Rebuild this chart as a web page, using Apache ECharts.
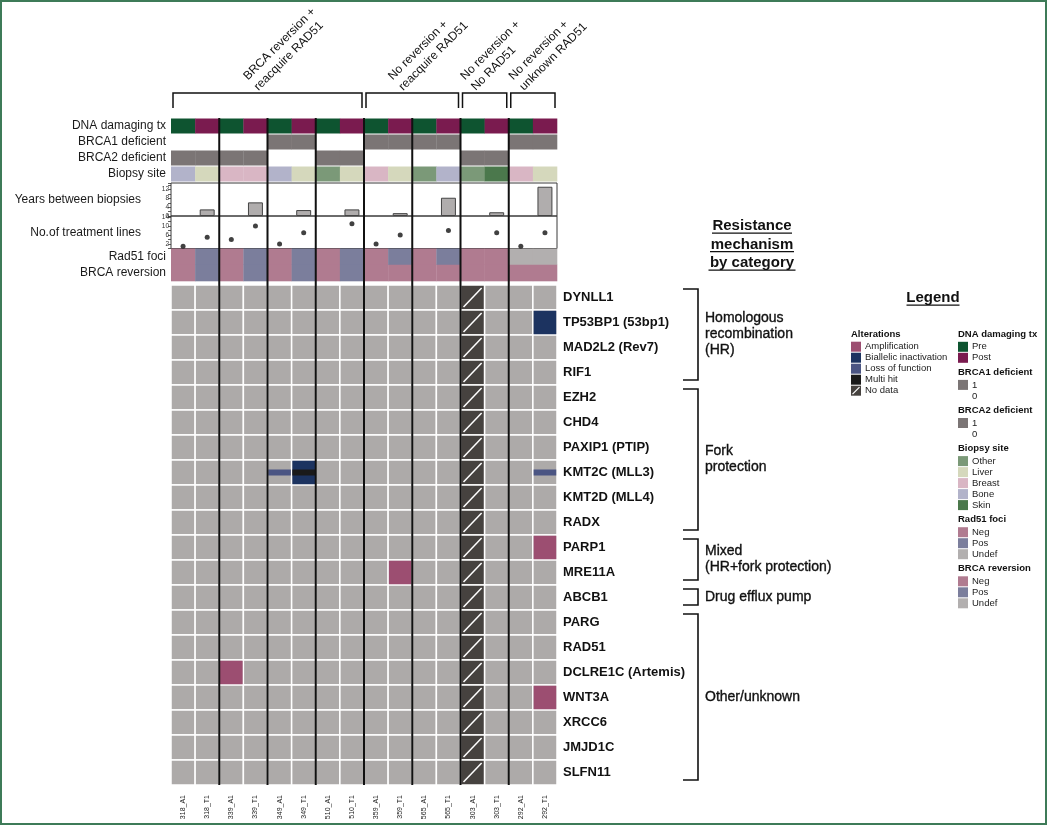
<!DOCTYPE html>
<html><head><meta charset="utf-8">
<script src="https://cdn.jsdelivr.net/npm/echarts@6/dist/echarts.min.js"></script>
<style>html,body{margin:0;padding:0;background:#fff}#chart{width:1050px;height:826px}</style>
</head><body><div id="chart"></div>
<script>
const FONT = '"Liberation Sans", Arial, Helvetica, sans-serif';

// ---------------- data ----------------
const samples = ['318_A1','318_T1','339_A1','339_T1','349_A1','349_T1','510_A1','510_T1','359_A1','359_T1','565_A1','565_T1','303_A1','303_T1','292_A1','292_T1'];
const dnaDamagingTx = ['Pre','Post','Pre','Post','Pre','Post','Pre','Post','Pre','Post','Pre','Post','Pre','Post','Pre','Post'];
const brca1Deficient = [0,0,0,0,1,1,0,0,1,1,1,1,0,0,1,1];
const brca2Deficient = [1,1,1,1,0,0,1,1,0,0,0,0,1,1,0,0];
const biopsySite = ['Bone','Liver','Breast','Breast','Bone','Liver','Other','Liver','Breast','Liver','Other','Bone','Other','Skin','Breast','Liver'];
const yearsBetweenBiopsies = [null,3,null,6.2,null,2.7,null,3,null,1.3,null,8.3,null,1.7,null,13.3];
const treatmentLines = [1,5,4,10,2,7,null,11,2,6,null,8,null,7,1,7];
const rad51Foci = ['Neg','Pos','Neg','Pos','Neg','Pos','Neg','Pos','Neg','Pos','Neg','Pos','Neg','Neg','Undef','Undef'];
const brcaReversion = ['Neg','Pos','Neg','Pos','Neg','Pos','Neg','Pos','Neg','Neg','Neg','Neg','Neg','Neg','Neg','Neg'];
const annoRows = ['DNA damaging tx','BRCA1 deficient','BRCA2 deficient','Biopsy site'];
const statusRows = ['Rad51 foci','BRCA reversion'];

const genes = ['DYNLL1','TP53BP1 (53bp1)','MAD2L2 (Rev7)','RIF1','EZH2','CHD4','PAXIP1 (PTIP)','KMT2C (MLL3)','KMT2D (MLL4)','RADX','PARP1','MRE11A','ABCB1','PARG','RAD51','DCLRE1C (Artemis)','WNT3A','XRCC6','JMJD1C','SLFN11'];
const altGene = ['TP53BP1 (53bp1)','KMT2C (MLL3)','KMT2C (MLL3)','KMT2C (MLL3)','KMT2C (MLL3)','PARP1','MRE11A','DCLRE1C (Artemis)','WNT3A'];
const altSample = ['292_T1','349_A1','349_T1','349_T1','292_T1','292_T1','359_T1','339_A1','292_T1'];
const altType = ['Biallelic inactivation','Loss of function','Biallelic inactivation','Multi hit','Loss of function','Amplification','Amplification','Amplification','Amplification'];
const noDataSamples = ['303_A1'];

const groupLabels = ['BRCA reversion +\nreacquire RAD51','No reversion +\nreacquire RAD51','No reversion +\nNo RAD51','No reversion +\nunknown RAD51'];
const groupFirst = ['318_A1','359_A1','303_A1','292_A1'];
const groupLast = ['510_T1','565_T1','303_T1','292_T1'];

const categoryLabels = ['Homologous\nrecombination\n(HR)','Fork\nprotection','Mixed\n(HR+fork protection)','Drug efflux pump','Other/unknown'];
const categoryFirst = ['DYNLL1','EZH2','PARP1','ABCB1','PARG'];
const categoryLast = ['RIF1','RADX','MRE11A','ABCB1','SLFN11'];

// ---------------- styles ----------------
const COL = {Pre:'#0e5430', Post:'#7a1b4f', def:'#7b7575', Other:'#7b9978', Liver:'#d5d8bc', Breast:'#d9b6c4', Bone:'#b2b3ca', Skin:'#4b784c', Neg:'#b07b90', Pos:'#7b7e9c', Undef:'#b2afaf'};
const ALT = {'Amplification':'#9c4e71','Biallelic inactivation':'#1c3360','Loss of function':'#4b5583','Multi hit':'#1a1a1a'};
const BASE = '#adaaa9', NODATA = '#46423f';
const TXT = '#1a1a1a';

const GL = 171, GW = 386;

// ---------------- derived series data ----------------
const annoData = [], annoColors = [];
samples.forEach((s, c) => {
  annoData.push([c, 0]); annoColors.push(COL[dnaDamagingTx[c]]);
  annoData.push([c, 1]); annoColors.push(brca1Deficient[c] ? COL.def : '#ffffff');
  annoData.push([c, 2]); annoColors.push(brca2Deficient[c] ? COL.def : '#ffffff');
  annoData.push([c, 3]); annoColors.push(COL[biopsySite[c]]);
});
const statusData = [], statusColors = [];
samples.forEach((s, c) => {
  statusData.push([c, 0]); statusColors.push(COL[rad51Foci[c]]);
  statusData.push([c, 1]); statusColors.push(COL[brcaReversion[c]]);
});
const baseData = [];
genes.forEach((g, r) => samples.forEach((s, c) => baseData.push([c, r, noDataSamples.includes(s) ? 1 : 0])));
const altTypes = Object.keys(ALT);
const altData = altGene.map((g, i) => [samples.indexOf(altSample[i]), genes.indexOf(g), altTypes.indexOf(altType[i])]);
const sepData = [];
for (let i = 0; i < samples.length - 1; i++) {
  if (samples[i].split('_')[0] !== samples[i + 1].split('_')[0]) sepData.push([i, 0]);
}
const groupData = groupLabels.map((l, i) => [samples.indexOf(groupFirst[i]), samples.indexOf(groupLast[i]), i]);
const catData = categoryLabels.map((l, i) => [genes.indexOf(categoryFirst[i]), genes.indexOf(categoryLast[i]), i]);

function cell(api, c, r) {
  const p = api.coord([c, r]); const s = api.size([1, 1]);
  return {x: p[0] - s[0] / 2, y: p[1] - s[1] / 2, w: s[0], h: s[1]};
}

const hiddenCat = {type: 'category', data: samples, show: false};
const grids = [
  {left: GL, top: 93, width: GW, height: 15},          // 0 group brackets
  {left: GL, top: 118, width: GW, height: 64},         // 1 annotations
  {left: GL, top: 183, width: GW, height: 33, show: true, borderColor: '#3a3a3a', borderWidth: 1}, // 2 years
  {left: GL, top: 216, width: GW, height: 32.5, show: true, borderColor: '#3a3a3a', borderWidth: 1}, // 3 treatment
  {left: GL, top: 248.5, width: GW, height: 32.5},     // 4 rad51 / reversion
  {left: GL, top: 285, width: GW, height: 500},        // 5 heatmap
  {left: GL, top: 118, width: GW, height: 667},        // 6 separators
  {left: 683, top: 285, width: 15, height: 500}        // 7 category brackets
].map(g => Object.assign({outerBoundsMode: 'none', containLabel: false}, g));

const xAxes = [0,1,2,3,4,5,6].map(i => Object.assign({}, hiddenCat, {gridIndex: i}));
xAxes[5] = {type: 'category', gridIndex: 5, data: samples, axisLine: {show: false}, axisTick: {show: false},
  axisLabel: {rotate: 90, fontSize: 7, margin: 10, color: '#222', fontFamily: FONT, interval: 0}};
xAxes.push({type: 'value', gridIndex: 7, min: 0, max: 1, show: false});

const smallAxis = (fmt) => ({axisLine: {show: false}, splitLine: {show: false},
  axisTick: {show: true, length: 3, lineStyle: {color: '#333', width: 0.8}},
  axisLabel: {fontSize: 6.5, margin: 2, color: '#333', fontFamily: FONT, formatter: fmt}});

const yAxes = [
  {type: 'value', gridIndex: 0, min: 0, max: 1, show: false},
  {type: 'category', gridIndex: 1, data: annoRows, inverse: true, axisLine: {show: false}, axisTick: {show: false},
    axisLabel: {fontSize: 12, margin: 5, color: TXT, fontFamily: FONT}},
  Object.assign({type: 'value', gridIndex: 2, min: 0, max: 15, interval: 2}, smallAxis(v => (v % 4 === 0 && v <= 12) ? String(v) : '')),
  Object.assign({type: 'value', gridIndex: 3, min: 0, max: 14.5, interval: 2}, smallAxis(v => (v % 4 === 2) ? String(v) : '')),
  {type: 'category', gridIndex: 4, data: statusRows, inverse: true, axisLine: {show: false}, axisTick: {show: false},
    axisLabel: {fontSize: 12, margin: 5, color: TXT, fontFamily: FONT}},
  {type: 'category', gridIndex: 5, data: genes, inverse: true, position: 'right', axisLine: {show: false}, axisTick: {show: false},
    axisLabel: {fontSize: 13, fontWeight: 'bold', margin: 6, color: '#111', fontFamily: FONT, interval: 0}},
  {type: 'value', gridIndex: 6, min: 0, max: 1, show: false},
  {type: 'category', gridIndex: 7, data: genes, inverse: true, show: false}
];

const series = [
  // group brackets + rotated titles
  {type: 'custom', xAxisIndex: 0, yAxisIndex: 0, silent: true, data: groupData,
    renderItem(params, api) {
      const a = api.coord([api.value(0), 1]), b = api.coord([api.value(1), 0]);
      const w = api.size([1, 0])[0];
      const xl = a[0] - w / 2 + 2, xr = b[0] + w / 2 - 2, yt = a[1], yb = b[1];
      const cx = (xl + xr) / 2;
      return {type: 'group', children: [
        {type: 'polyline', shape: {points: [[xl, yb], [xl, yt], [xr, yt], [xr, yb]]}, style: {stroke: '#111', lineWidth: 1.5, fill: 'none'}},
        {type: 'text', x: cx - 6, y: yt + 1, rotation: Math.PI / 4,
          style: {text: groupLabels[api.value(2)], fontSize: 12, fontFamily: FONT, fill: '#111', align: 'left', verticalAlign: 'bottom', lineHeight: 15}}
      ]};
    }},
  // annotations
  {type: 'custom', xAxisIndex: 1, yAxisIndex: 1, silent: true, data: annoData,
    renderItem(params, api) {
      const r = cell(api, api.value(0), api.value(1));
      return {type: 'rect', shape: {x: r.x, y: r.y + 0.5, width: r.w + 0.3, height: r.h - 1}, style: {fill: annoColors[params.dataIndex]}};
    }},
  // years bars
  {type: 'bar', xAxisIndex: 2, yAxisIndex: 2, silent: true, data: yearsBetweenBiopsies, barWidth: '62%',
    itemStyle: {color: '#b0adad', borderColor: '#444', borderWidth: 1}},
  // treatment lines
  {type: 'scatter', xAxisIndex: 3, yAxisIndex: 3, silent: true, data: treatmentLines, symbolSize: 5,
    itemStyle: {color: '#111'}},
  // rad51 / reversion
  {type: 'custom', xAxisIndex: 4, yAxisIndex: 4, silent: true, data: statusData,
    renderItem(params, api) {
      const r = cell(api, api.value(0), api.value(1));
      return {type: 'rect', shape: {x: r.x, y: r.y, width: r.w + 0.3, height: r.h + 0.3}, style: {fill: statusColors[params.dataIndex]}};
    }},
  // heatmap base
  {type: 'custom', xAxisIndex: 5, yAxisIndex: 5, silent: true, data: baseData,
    renderItem(params, api) {
      const r = cell(api, api.value(0), api.value(1));
      const nd = api.value(2) === 1;
      const ch = [{type: 'rect', shape: {x: r.x, y: r.y, width: r.w, height: r.h}, style: {fill: nd ? NODATA : BASE, stroke: '#fff', lineWidth: 1.5}}];
      if (nd) ch.push({type: 'line', shape: {x1: r.x + 3, y1: r.y + r.h - 3, x2: r.x + r.w - 3, y2: r.y + 3}, style: {stroke: '#fff', lineWidth: 1.5}});
      return {type: 'group', children: ch};
    }},
  // alterations
  {type: 'custom', xAxisIndex: 5, yAxisIndex: 5, silent: true, data: altData, z: 3,
    renderItem(params, api) {
      const r = cell(api, api.value(0), api.value(1));
      const t = altTypes[api.value(2)];
      const band = (t === 'Loss of function' || t === 'Multi hit');
      const h = band ? r.h * 0.24 : r.h - 1.5;
      return {type: 'rect', shape: {x: r.x + 0.75, y: r.y + r.h / 2 - h / 2, width: r.w - 1.5, height: h}, style: {fill: ALT[t]}};
    }},
  // patient separators
  {type: 'custom', xAxisIndex: 6, yAxisIndex: 6, silent: true, data: sepData, z: 5,
    renderItem(params, api) {
      const p0 = api.coord([api.value(0), 0]), p1 = api.coord([api.value(0), 1]);
      const w = api.size([1, 0])[0];
      const x = p0[0] + w / 2;
      return {type: 'line', shape: {x1: x, y1: p1[1], x2: x, y2: p0[1]}, style: {stroke: '#111', lineWidth: 2}};
    }},
  // category brackets
  {type: 'custom', xAxisIndex: 7, yAxisIndex: 7, silent: true, data: catData.map(d => [0, d[0], d[1], d[2]]),
    renderItem(params, api) {
      const h = api.size([0, 1])[1];
      const yt = api.coord([0, api.value(1)])[1] - h / 2 + 4;
      const yb = api.coord([0, api.value(2)])[1] + h / 2 - 5;
      const xl = api.coord([0, 0])[0], xr = api.coord([1, 0])[0];
      return {type: 'group', children: [
        {type: 'polyline', shape: {points: [[xl, yt], [xr, yt], [xr, yb], [xl, yb]]}, style: {stroke: '#111', lineWidth: 1.6, fill: 'none'}},
        {type: 'text', x: xr + 7, y: (yt + yb) / 2,
          style: {text: categoryLabels[api.value(3)], fontSize: 14, fontFamily: FONT, fill: '#111', align: 'left', verticalAlign: 'middle', lineHeight: 16, stroke: '#111', lineWidth: 0.35}}
      ]};
    }}
];

// ---------------- graphic: frame, titles, legend ----------------
const graphic = [];
graphic.push({type: 'rect', shape: {x: 1, y: 1, width: 1045, height: 823}, style: {fill: 'none', stroke: '#3e7b58', lineWidth: 2}, silent: true});
graphic.push({type: 'text', x: 141, y: 199.5, style: {text: 'Years between biopsies', fontSize: 12, fontFamily: FONT, fill: TXT, align: 'right', verticalAlign: 'middle'}});
graphic.push({type: 'text', x: 141, y: 232.5, style: {text: 'No.of treatment lines', fontSize: 12, fontFamily: FONT, fill: TXT, align: 'right', verticalAlign: 'middle'}});

function uTitle(lines, cx, y0, dy, size, widths) {
  lines.forEach((t, i) => {
    const y = y0 + i * dy;
    graphic.push({type: 'text', x: cx, y: y, style: {text: t, fontSize: size, fontWeight: 'bold', fontFamily: FONT, fill: '#111', align: 'center', verticalAlign: 'middle'}});
    graphic.push({type: 'line', shape: {x1: cx - widths[i] / 2, y1: y + size * 0.48, x2: cx + widths[i] / 2, y2: y + size * 0.48}, style: {stroke: '#111', lineWidth: 1.2}});
  });
}
uTitle(['Resistance', 'mechanism', 'by category'], 752, 226, 18.5, 15, [80, 84, 87]);
uTitle(['Legend'], 933, 298, 0, 15, [53]);

const legendAlter = ['Amplification', 'Biallelic inactivation', 'Loss of function', 'Multi hit', 'No data'];
const legendRight = [
  ['DNA damaging tx', [['Pre', COL.Pre], ['Post', COL.Post]]],
  ['BRCA1 deficient', [['1', COL.def], ['0', null]]],
  ['BRCA2 deficient', [['1', COL.def], ['0', null]]],
  ['Biopsy site', [['Other', COL.Other], ['Liver', COL.Liver], ['Breast', COL.Breast], ['Bone', COL.Bone], ['Skin', COL.Skin]]],
  ['Rad51 foci', [['Neg', COL.Neg], ['Pos', COL.Pos], ['Undef', COL.Undef]]],
  ['BRCA reversion', [['Neg', COL.Neg], ['Pos', COL.Pos], ['Undef', COL.Undef]]]
];
const LFS = 9.5;
function lgTitle(x, y, t) {
  graphic.push({type: 'text', x: x, y: y, style: {text: t, fontSize: LFS, fontWeight: 'bold', fontFamily: FONT, fill: '#111', align: 'left', verticalAlign: 'middle'}});
}
function lgItem(x, y, t, color, nodata) {
  if (color) graphic.push({type: 'rect', shape: {x: x, y: y - 5, width: 10, height: 10}, style: {fill: color}});
  if (nodata) graphic.push({type: 'line', shape: {x1: x + 1.5, y1: y + 3.5, x2: x + 8.5, y2: y - 3.5}, style: {stroke: '#fff', lineWidth: 1.2}});
  graphic.push({type: 'text', x: x + 14, y: y, style: {text: t, fontSize: LFS, fontFamily: FONT, fill: '#222', align: 'left', verticalAlign: 'middle'}});
}
lgTitle(851, 334, 'Alterations');
legendAlter.forEach((t, i) => {
  const c = t === 'No data' ? NODATA : ALT[t];
  lgItem(851, 346.7 + i * 11, t, c, t === 'No data');
});
let ly = 334;
legendRight.forEach(([title, items]) => {
  lgTitle(958, ly, title);
  ly += 12.8;
  items.forEach(([t, c], k) => { lgItem(958, ly, t, c, false); if (k < items.length - 1) ly += 11; });
  ly += 14.3;
});

const chart = echarts.init(document.getElementById('chart'), null, {renderer: 'canvas'});
chart.setOption({animation: false, backgroundColor: '#fff', grid: grids, xAxis: xAxes, yAxis: yAxes, series: series, graphic: graphic});
</script></body></html>
